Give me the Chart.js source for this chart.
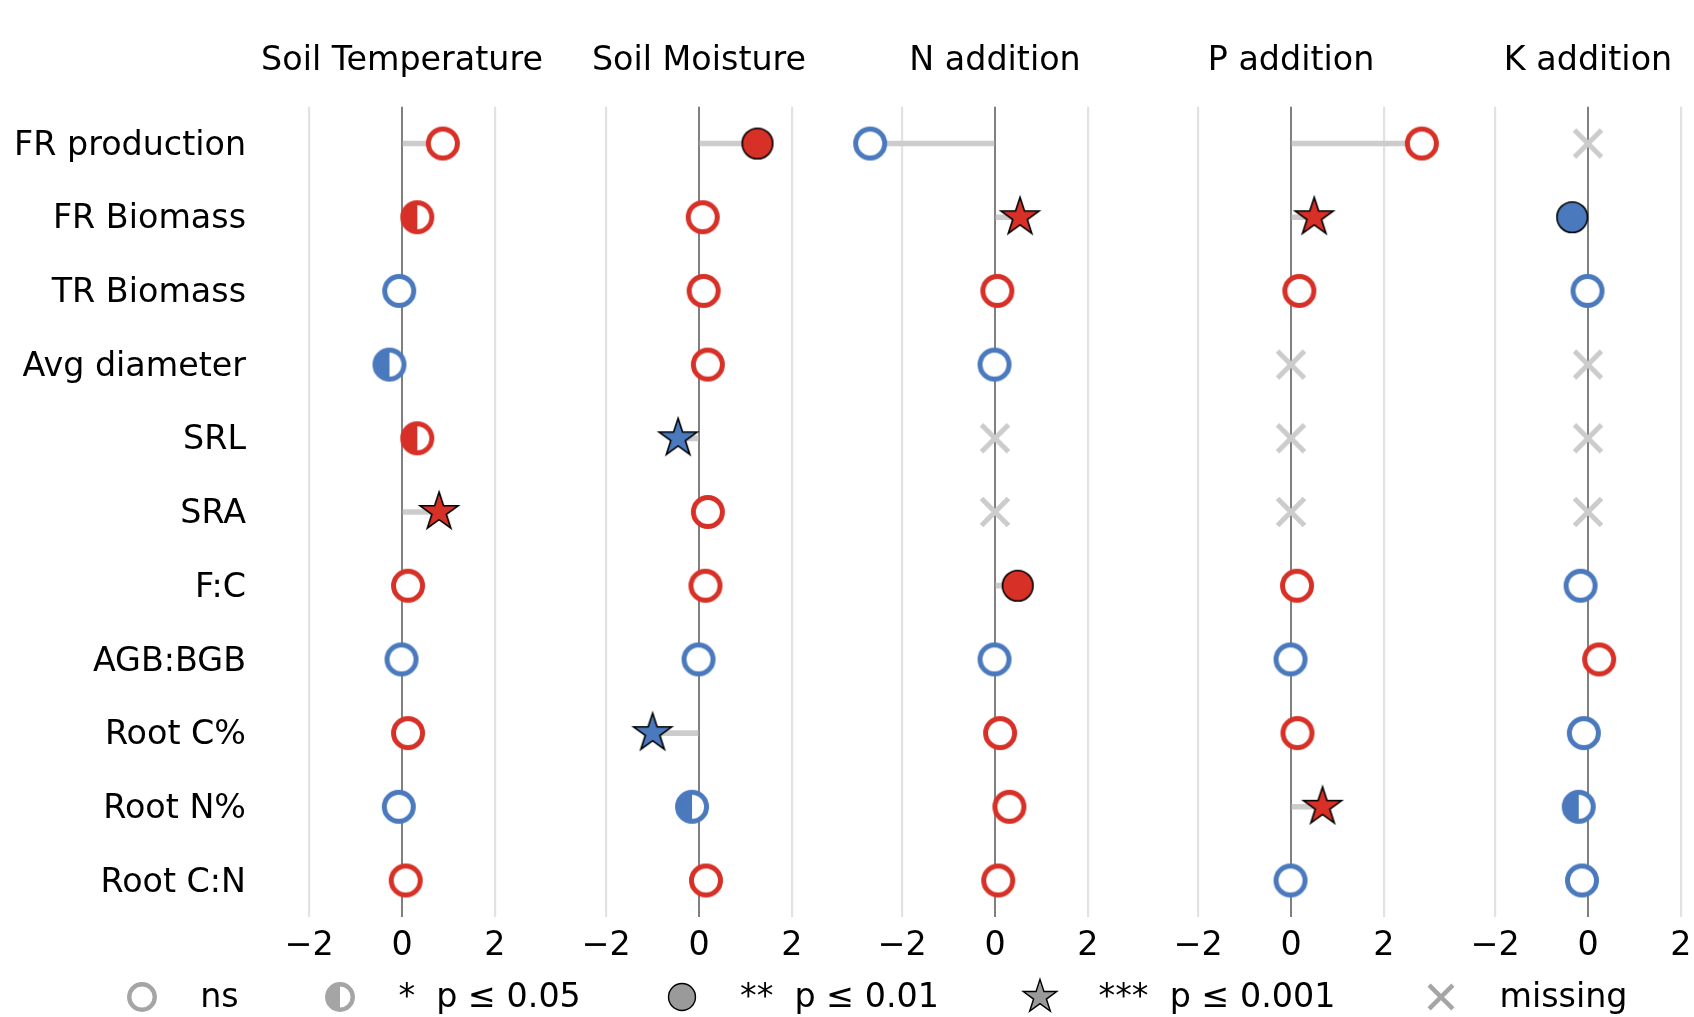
<!DOCTYPE html>
<html>
<head>
<meta charset="utf-8">
<script src="https://cdn.jsdelivr.net/npm/chart.js@4.4.1/dist/chart.umd.min.js"></script>
<style>
  html, body { margin: 0; padding: 0; background: #fff; }
  body { width: 1694px; height: 1017px; overflow: hidden; position: relative; font-family: 'DejaVu Sans', sans-serif; }
  canvas { position: absolute; top: 0; }
  .lg-text { position: absolute; font-size: 33.33px; line-height: 32px; white-space: pre; color: #000; font-family: 'DejaVu Sans', sans-serif; }
</style>
</head>
<body>
<script>
// ---------------- data ----------------
const categories = ['FR production', 'FR Biomass', 'TR Biomass', 'Avg diameter', 'SRL', 'SRA',
                    'F:C', 'AGB:BGB', 'Root C%', 'Root N%', 'Root C:N'];
const panelTitles = ['Soil Temperature', 'Soil Moisture', 'N addition', 'P addition', 'K addition'];
const xTicks = [-2, 0, 2];

// effect sizes (null = missing)
const soilTempValues  = [0.88, 0.33, -0.06, -0.27, 0.33, 0.80, 0.13, -0.01, 0.13, -0.07, 0.08];
const soilMoistValues = [1.26, 0.08, 0.10, 0.19, -0.45, 0.19, 0.14, -0.01, -1.00, -0.15, 0.15];
const nAddValues      = [-2.69, 0.54, 0.05, -0.01, null, null, 0.49, -0.01, 0.11, 0.31, 0.07];
const pAddValues      = [2.82, 0.50, 0.18, null, null, null, 0.13, -0.01, 0.14, 0.68, -0.01];
const kAddValues      = [null, -0.34, -0.01, null, null, null, -0.16, 0.24, -0.09, -0.20, -0.13];

// significance: 'ns', '*', '**', '***' (null = missing)
const soilTempSig  = ['ns', '*', 'ns', '*', '*', '***', 'ns', 'ns', 'ns', 'ns', 'ns'];
const soilMoistSig = ['**', 'ns', 'ns', 'ns', '***', 'ns', 'ns', 'ns', '***', '*', 'ns'];
const nAddSig      = ['ns', '***', 'ns', 'ns', null, null, '**', 'ns', 'ns', 'ns', 'ns'];
const pAddSig      = ['ns', '***', 'ns', null, null, null, 'ns', 'ns', 'ns', '***', 'ns'];
const kAddSig      = [null, '**', 'ns', null, null, null, 'ns', 'ns', 'ns', '*', 'ns'];

const legendKinds  = ['ns', '*', '**', '***', 'missing'];
const legendLabels = ['ns', '*  p \u2264 0.05', '**  p \u2264 0.01', '***  p \u2264 0.001', 'missing'];

const panelValues = [soilTempValues, soilMoistValues, nAddValues, pAddValues, kAddValues];
const panelSig    = [soilTempSig, soilMoistSig, nAddSig, pAddSig, kAddSig];

// ---------------- style ----------------
const FONT = "'DejaVu Sans', sans-serif";
const FS = 33.33;
const RED = '#d73027', BLUE = '#4a79bd', MISSING = '#cccccc';
const GRID = '#e2e2e2', ZERO = '#808080', STEM = '#cccccc';

function makeMarker(kind, color, s) {
  const S = 2 * Math.ceil(24 * s);
  const c = document.createElement('canvas');
  c.width = S; c.height = S;
  const g = c.getContext('2d');
  g.translate(S / 2, S / 2);
  if (kind === 'ns' || kind === '*') {
    const r = 14.5 * s;
    g.beginPath(); g.arc(0, 0, r, 0, 2 * Math.PI); g.fillStyle = '#fff'; g.fill();
    if (kind === '*') {
      g.beginPath(); g.moveTo(0, r); g.arc(0, 0, r, Math.PI / 2, 1.5 * Math.PI, false); g.closePath();
      g.fillStyle = color; g.fill();
    }
    g.beginPath(); g.arc(0, 0, r, 0, 2 * Math.PI);
    g.lineWidth = 5 * s; g.strokeStyle = color; g.stroke();
  } else if (kind === '**') {
    g.beginPath(); g.arc(0, 0, 15.3 * s, 0, 2 * Math.PI);
    g.fillStyle = color; g.fill();
    g.lineWidth = 1.6 * s; g.strokeStyle = '#000'; g.stroke();
  } else if (kind === '***') {
    const R = 20 * s, ri = R * 0.382;
    g.beginPath();
    for (let k = 0; k < 10; k++) {
      const a = -Math.PI / 2 + k * Math.PI / 5;
      const rr = (k % 2 === 0) ? R : ri;
      const px = rr * Math.cos(a), py = rr * Math.sin(a);
      if (k === 0) g.moveTo(px, py); else g.lineTo(px, py);
    }
    g.closePath();
    g.fillStyle = color; g.fill();
    g.lineJoin = 'miter'; g.lineWidth = 1.6 * s; g.strokeStyle = '#000'; g.stroke();
  } else {
    const d = 13.5 * s;
    g.beginPath(); g.moveTo(-d, -d); g.lineTo(d, d); g.moveTo(-d, d); g.lineTo(d, -d);
    g.lineWidth = 5 * s; g.lineCap = 'butt'; g.strokeStyle = color; g.stroke();
  }
  return c;
}

const markerCache = {};
function markerFor(sig, v) {
  const kind = (v === null || sig === null) ? 'missing' : sig;
  const color = kind === 'missing' ? MISSING : (v < 0 ? BLUE : RED);
  const key = kind + color;
  if (!markerCache[key]) markerCache[key] = makeMarker(kind, color, 1);
  return markerCache[key];
}

// ---------------- panels ----------------
const AREA_W = 296;
const XR = AREA_W / 2 / 46.4;
const Y_AXIS_W = 254;
const CANVAS_H = 1017;

panelTitles.forEach((title, i) => {
  const values = panelValues[i];
  const sig = panelSig[i];
  const center = 995 + 296.3 * (i - 2);
  const canvas = document.createElement('canvas');
  let left, width;
  if (i === 0) { left = 0; width = Y_AXIS_W + AREA_W; }
  else { left = Math.round(center - AREA_W / 2); width = AREA_W; }
  canvas.width = width; canvas.height = CANVAS_H;
  canvas.style.left = left + 'px';
  canvas.style.width = width + 'px'; canvas.style.height = CANVAS_H + 'px';
  document.body.appendChild(canvas);

  const stems = values.map(v => v === null ? null : [0, v]);
  const points = values.map(v => v === null ? 0 : v);

  new Chart(canvas, {
    type: 'bar',
    data: {
      labels: categories,
      datasets: [
        { type: 'bar', data: stems, backgroundColor: STEM, borderWidth: 0, barThickness: 5, order: 2 },
        { type: 'line', data: points, showLine: false, order: 1, clip: false,
          pointRadius: 15, pointHoverRadius: 15,
          pointStyle: ctx => markerFor(sig[ctx.dataIndex], values[ctx.dataIndex]) }
      ]
    },
    options: {
      indexAxis: 'y',
      responsive: false,
      animation: false,
      events: [],
      layout: { padding: 0, autoPadding: false },
      plugins: {
        legend: { display: false },
        tooltip: { enabled: false },
        title: {
          display: true, text: title, fullSize: false, color: '#000',
          font: { family: FONT, size: FS, weight: 'normal', lineHeight: 1.2 },
          padding: { top: 41.3, bottom: 25.4 }
        }
      },
      scales: {
        x: {
          type: 'linear', min: -XR, max: XR,
          afterBuildTicks: s => { s.ticks = xTicks.map(v => ({ value: v })); },
          afterFit: s => { s.height = CANVAS_H - 917.3; s.paddingLeft = 0; s.paddingRight = 0; },
          ticks: {
            color: '#000', padding: 9.2, font: { family: FONT, size: FS, lineHeight: 1.2 },
            callback: v => (v < 0 ? '\u2212' + Math.abs(v) : String(v))
          },
          grid: {
            drawTicks: false,
            color: c => (c.tick && c.tick.value === 0 ? ZERO : GRID),
            lineWidth: c => (c.tick && c.tick.value === 0 ? 2 : 2.2)
          },
          border: { display: false }
        },
        y: {
          type: 'category', offset: true, display: i === 0,
          afterFit: s => { if (i === 0) s.width = Y_AXIS_W; s.paddingTop = 0; s.paddingBottom = 0; },
          ticks: { color: '#000', padding: 8, labelOffset: 2.5, font: { family: FONT, size: FS } },
          grid: { display: false, drawTicks: false },
          border: { display: false }
        }
      }
    }
  });
});

// ---------------- legend ----------------
const legendMarkerX = [141.7, 340, 681.5, 1040, 1441];
const legendY = 996.7;
const legendColors = { 'ns': '#a5a5a5', '*': '#a5a5a5', '**': '#9a9a9a', '***': '#9a9a9a', 'missing': '#a5a5a5' };
legendKinds.forEach((kind, i) => {
  const m = makeMarker(kind, legendColors[kind], 0.88);
  m.style.position = 'absolute';
  m.style.left = (legendMarkerX[i] - m.width / 2) + 'px';
  m.style.top = (legendY - m.height / 2) + 'px';
  document.body.appendChild(m);
  const t = document.createElement('span');
  t.className = 'lg-text';
  t.textContent = legendLabels[i];
  t.style.left = (legendMarkerX[i] + 58.5) + 'px';
  t.style.top = '979.5px';
  document.body.appendChild(t);
});
</script>
</body>
</html>
